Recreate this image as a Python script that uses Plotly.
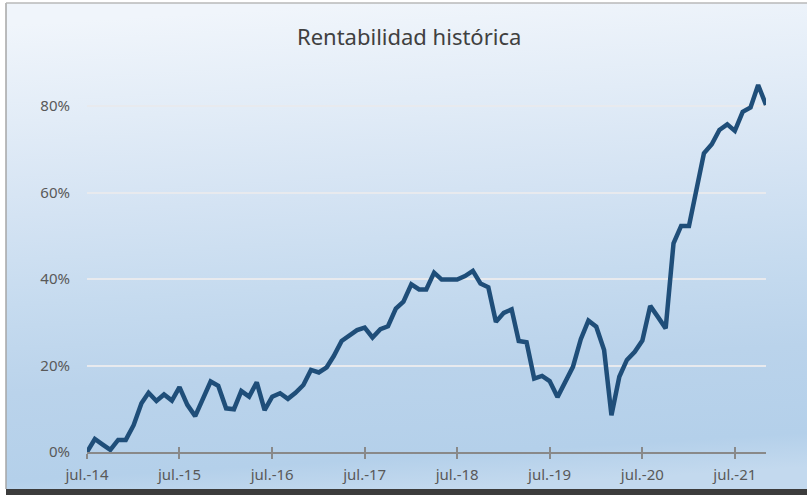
import plotly.graph_objects as go
import pandas as pd
from urllib.parse import quote

# ---- data ----
months = pd.date_range("2014-07-01", periods=89, freq="MS")
rentabilidad = [
    0.0, 3.0, 1.7, 0.5, 2.8, 2.8, 6.2, 11.3, 13.7, 11.8, 13.3, 11.9,
    15.0, 10.9, 8.3, 12.2, 16.3, 15.3, 10.1, 9.9, 14.1, 12.8, 16.1, 9.7,
    12.8, 13.6, 12.3, 13.7, 15.5, 19.0, 18.4, 19.6, 22.2, 25.7, 26.9, 28.2,
    28.8, 26.5, 28.4, 29.1, 33.2, 34.8, 38.8, 37.6, 37.6, 41.5, 39.9, 40.0,
    39.9, 40.7, 41.9, 39.0, 38.1, 30.1, 32.2, 33.0, 25.7, 25.4, 17.0, 17.6,
    16.4, 12.7, 16.3, 19.7, 26.1, 30.4, 29.0, 23.6, 8.5, 17.4, 21.3, 23.2,
    25.8, 33.8, 31.2, 28.6, 48.3, 52.3, 52.3, 61.3, 69.1, 71.2, 74.5, 75.8,
    74.3, 78.7, 79.7, 84.9, 80.3,
]
tick_dates = pd.date_range("2014-07-01", periods=8, freq="12MS")
tick_labels = ["jul.-14", "jul.-15", "jul.-16", "jul.-17",
               "jul.-18", "jul.-19", "jul.-20", "jul.-21"]
y_ticks = [0, 20, 40, 60, 80]
y_tick_labels = ["0%", "20%", "40%", "60%", "80%"]
title_text = "Rentabilidad histórica"

# ---- layout geometry (pixels) ----
W, H = 807, 495
L, R, T, B = 87, 41, 63, 43
pw, ph = W - L - R, H - T - B


def px(x):
    return (x - L) / pw


def py(y):
    return (H - B - y) / ph


FONT = "Noto Sans"
GRAY = "#595959"

svg = (
    "<svg xmlns='http://www.w3.org/2000/svg' width='801' height='486' "
    "preserveAspectRatio='none'><defs><linearGradient id='g' x1='0.45' y1='0' x2='0.55' y2='1'>"
    "<stop offset='0' stop-color='#f0f5fb'/>"
    "<stop offset='0.2' stop-color='#e2ecf7'/>"
    "<stop offset='0.39' stop-color='#d4e3f3'/>"
    "<stop offset='0.57' stop-color='#c6dbef'/>"
    "<stop offset='0.75' stop-color='#bad3eb'/>"
    "<stop offset='0.93' stop-color='#b4d0ea'/>"
    "<stop offset='1' stop-color='#c3d9ee'/>"
    "</linearGradient></defs><rect width='801' height='486' fill='url(#g)'/></svg>"
)
bg_src = "data:image/svg+xml;charset=utf-8," + quote(svg)

fig = go.Figure()
fig.add_trace(go.Scatter(
    x=months, y=rentabilidad, mode="lines",
    line=dict(color="#1f4e79", width=4.5),
    hoverinfo="skip", showlegend=False,
))
# companion trace so the overlay axis (inside ticks) is rendered
fig.add_trace(go.Scatter(
    x=months, y=rentabilidad, mode="lines", xaxis="x2",
    line=dict(color="rgba(0,0,0,0)", width=0),
    hoverinfo="skip", showlegend=False,
))

fig.update_layout(
    width=W, height=H,
    margin=dict(l=L, r=R, t=T, b=B),
    paper_bgcolor="white",
    plot_bgcolor="rgba(0,0,0,0)",
    showlegend=False,
    title=dict(text=title_text, x=0.507, xref="container", xanchor="center",
               y=1 - 37 / H, yref="container", yanchor="middle",
               font=dict(family=FONT, size=22, color="#404040")),
    xaxis=dict(
        range=[months[0], months[-1]],
        tickvals=tick_dates, ticktext=tick_labels,
        showgrid=False, zeroline=False,
        showline=True, linecolor="#898989", linewidth=1.5,
        ticks="outside", ticklen=5, tickwidth=1.5, tickcolor="#898989",
        ticklabelstandoff=3,
        tickfont=dict(family=FONT, size=15, color=GRAY),
    ),
    xaxis2=dict(
        overlaying="x", anchor="y", side="bottom", matches="x",
        range=[months[0], months[-1]],
        tickvals=tick_dates, showticklabels=False,
        showgrid=False, zeroline=False, showline=False,
        ticks="inside", ticklen=5, tickwidth=1.5, tickcolor="#898989",
    ),
    yaxis=dict(
        range=[0, 90], tickvals=y_ticks, ticktext=y_tick_labels,
        showgrid=True, gridcolor="#e8eaee", gridwidth=1.5,
        zeroline=False, showline=False, ticks="",
        ticklabelstandoff=16,
        tickfont=dict(family=FONT, size=15, color=GRAY),
    ),
    images=[dict(
        source=bg_src, xref="paper", yref="paper",
        x=px(6), y=py(3), sizex=px(W) - px(6), sizey=py(3) - py(489),
        xanchor="left", yanchor="top", sizing="stretch", layer="below",
    )],
    shapes=[
        dict(type="line", xref="paper", yref="paper", x0=px(6), x1=px(6),
             y0=py(3), y1=py(489), line=dict(color="#a6a6a6", width=1.5), layer="below"),
        dict(type="line", xref="paper", yref="paper", x0=px(6), x1=px(W),
             y0=py(3), y1=py(3), line=dict(color="#b8b8b8", width=1.5), layer="below"),
        dict(type="rect", xref="paper", yref="paper", x0=px(6), x1=px(W),
             y0=py(489), y1=py(H), fillcolor="#3c3c3c", line=dict(width=0), layer="below"),
    ],
)

fig.write_html(
    "out.html",
    config={"displayModeBar": False},
    post_script="document.body.style.margin='0';document.body.style.overflow='hidden';",
)
